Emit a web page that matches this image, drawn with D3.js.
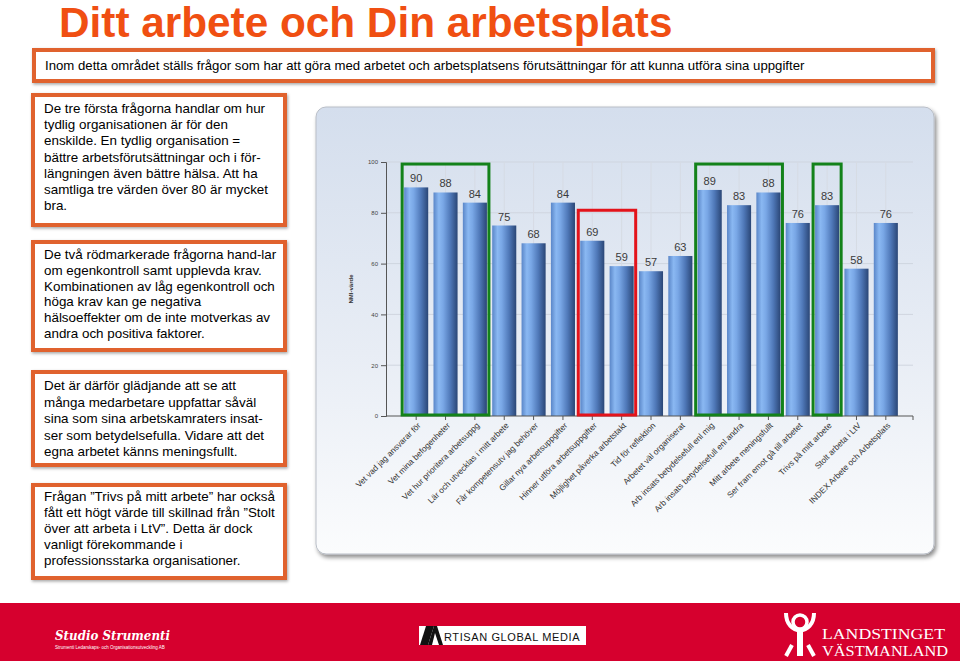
<!DOCTYPE html>
<html><head><meta charset="utf-8">
<script src="https://cdn.jsdelivr.net/npm/d3@7/dist/d3.min.js"></script>
<style>
html,body{margin:0;padding:0;background:#fff;}
svg{display:block;font-family:"Liberation Sans",Arial,sans-serif;}
</style></head>
<body>
<svg id="c" width="960" height="661"></svg>
<script>
const categories = [
  "Vet vad jag ansvarar för",
  "Vet mina befogenheter",
  "Vet hur prioritera arbetsuppg",
  "Lär och utvecklas i mitt arbete",
  "Får kompetensutv jag behöver",
  "Gillar nya arbetsuppgifter",
  "Hinner utföra arbetsuppgifter",
  "Möjlighet påverka arbetstakt",
  "Tid för reflektion",
  "Arbetet väl organiserat",
  "Arb insats betydelsefull enl mig",
  "Arb insats betydelsefull enl andra",
  "Mitt arbete meningsfullt",
  "Ser fram emot gå till arbetet",
  "Trivs på mitt arbete",
  "Stolt arbeta i LtV",
  "INDEX Arbete och Arbetsplats"
];
const values = [90, 88, 84, 75, 68, 84, 69, 59, 57, 63, 89, 83, 88, 76, 83, 58, 76];
const yTicks = [0, 20, 40, 60, 80, 100];
const yTitle = "NMI-värde";
// highlighted groups: [first index, last index, top value]
const greenGroups = [[0, 2, 99.2], [10, 12, 99.2], [14, 14, 99.2]];
const redGroups = [[6, 7, 81]];

const title = "Ditt arbete och Din arbetsplats";
const introText = "Inom detta området ställs frågor som har att göra med arbetet och arbetsplatsens förutsättningar för att kunna utföra sina uppgifter";
const box2 = ["De tre första frågorna handlar om hur","tydlig organisationen är för den","enskilde. En tydlig organisation =","bättre arbetsförutsättningar och i för-","längningen även bättre hälsa. Att ha","samtliga tre värden över 80 är mycket","bra."];
const box3 = ["De två rödmarkerade frågorna hand-lar","om egenkontroll samt upplevda krav.","Kombinationen av låg egenkontroll och","höga krav kan ge negativa","hälsoeffekter om de inte motverkas av","andra och positiva faktorer."];
const box4 = ["Det är därför glädjande att se att","många medarbetare uppfattar såväl","sina som sina arbetskamraters insat-","ser som betydelsefulla. Vidare att det","egna arbetet känns meningsfullt."];
const box5 = ["Frågan \u201dTrivs på mitt arbete\u201d har också","fått ett högt värde till skillnad från \u201dStolt","över att arbeta i LtV\u201d. Detta är dock","vanligt förekommande i","professionsstarka organisationer."];

const svg = d3.select("#c");
const defs = svg.append("defs");
const sh = defs.append("filter").attr("id","sh").attr("x","-10%").attr("y","-20%").attr("width","130%").attr("height","150%");
sh.append("feDropShadow").attr("dx",1).attr("dy",1.5).attr("stdDeviation",1.6).attr("flood-color","#000").attr("flood-opacity",0.35);
const sh2 = defs.append("filter").attr("id","sh2").attr("x","-5%").attr("y","-5%").attr("width","110%").attr("height","110%");
sh2.append("feDropShadow").attr("dx",2).attr("dy",3).attr("stdDeviation",2).attr("flood-color","#000").attr("flood-opacity",0.45);

const pg = defs.append("linearGradient").attr("id","pg").attr("x1",0).attr("y1",0).attr("x2",0).attr("y2",1);
pg.append("stop").attr("offset","0%").attr("stop-color","#d4deed");
pg.append("stop").attr("offset","55%").attr("stop-color","#e8edf5");
pg.append("stop").attr("offset","100%").attr("stop-color","#fbfcfd");

const bg = defs.append("linearGradient").attr("id","bg").attr("x1",0).attr("y1",0).attr("x2",1).attr("y2",0);
[["0%","#5a86c8"],["22%","#8ab8f2"],["40%","#79a7e6"],["70%","#4f78b8"],["100%","#2a4676"]].forEach(s=>bg.append("stop").attr("offset",s[0]).attr("stop-color",s[1]));

// Title
svg.append("text").attr("x",59).attr("y",37).attr("font-size",42.3).attr("font-weight","bold")
  .attr("fill","#f04f12").text(title);

// Text boxes
function textBox(x,y,w,h,lines,firstBase,lh,fs){
  svg.append("rect").attr("x",x).attr("y",y).attr("width",w).attr("height",h)
    .attr("fill","#fff").attr("stroke","#e0622f").attr("stroke-width",4).attr("filter","url(#sh)");
  const t = svg.append("text").attr("font-size",fs).attr("fill","#000");
  lines.forEach((l,i)=>t.append("tspan").attr("x",x+11).attr("y",firstBase+i*lh).text(l));
}
textBox(34,50,899,31,[introText],70,0,13.2);
textBox(33,95,252,130,box2,113,16.2,13.4);
textBox(33,242,252,108,box3,259,15.8,13.4);
textBox(33,372,252,93,box4,390,16.6,13.4);
textBox(33,485,252,93,box5,501,16,13.4);

// Chart panel
svg.append("rect").attr("x",316).attr("y",107).attr("width",618).attr("height",447).attr("rx",10)
  .attr("fill","url(#pg)").attr("stroke","#b9bec7").attr("stroke-width",1).attr("filter","url(#sh2)");

const x0 = 386, x1 = 913, yTop = 162, yBot = 416;
const y = d3.scaleLinear().domain([0,100]).range([yBot,yTop]);
const x = d3.scaleBand().domain(categories).range([x0+2,x1+1]).paddingInner(0.18).paddingOuter(0.55);
const g = svg.append("g");

// grid
g.selectAll(".hg").data(yTicks.filter(d=>d>0)).join("line")
  .attr("x1",x0).attr("x2",x1).attr("y1",d=>y(d)).attr("y2",d=>y(d))
  .attr("stroke","#cfd5df").attr("stroke-width",1);
g.selectAll(".vg").data(categories).join("line")
  .attr("x1",d=>x(d)+x.bandwidth()/2).attr("x2",d=>x(d)+x.bandwidth()/2)
  .attr("y1",yTop).attr("y2",yBot).attr("stroke","#d6dbe4").attr("stroke-width",1);

// bars
g.selectAll(".bar").data(values).join("rect")
  .attr("x",(d,i)=>x(categories[i])).attr("width",x.bandwidth())
  .attr("y",d=>y(d)).attr("height",d=>yBot-y(d)).attr("fill","url(#bg)");

// value labels
g.selectAll(".vl").data(values).join("text")
  .attr("x",(d,i)=>x(categories[i])+x.bandwidth()/2).attr("y",d=>y(d)-5)
  .attr("text-anchor","middle").attr("font-size",11).attr("fill","#3a3a3a").text(d=>d);

// axes
const yAxis = d3.axisLeft(y).tickValues(yTicks).tickSize(5).tickPadding(3);
const ya = g.append("g").attr("transform",`translate(${x0},0)`).call(yAxis);
ya.select(".domain").attr("stroke","#555");
ya.selectAll(".tick line").attr("stroke","#555");
ya.selectAll(".tick text").attr("font-size",6).attr("fill","#444");

const xAxis = d3.axisBottom(x).tickSize(4).tickSizeOuter(0).tickFormat("");
const xa = g.append("g").attr("transform",`translate(0,${yBot})`).call(xAxis);
xa.select(".domain").remove();
xa.selectAll(".tick line").attr("stroke","#555");
g.append("line").attr("x1",x0).attr("x2",x1).attr("y1",yBot).attr("y2",yBot).attr("stroke","#555");
g.append("line").attr("x1",x1).attr("x2",x1).attr("y1",yBot).attr("y2",yBot+4).attr("stroke","#555");

g.selectAll(".xl").data(categories).join("text")
  .attr("transform",d=>`translate(${x(d)+x.bandwidth()/2+3},${yBot+8}) rotate(-45)`)
  .attr("text-anchor","end").attr("dy","0.35em").attr("font-size",8.3).attr("fill","#333").text(d=>d);

g.append("text").attr("transform",`translate(353,${(yTop+yBot)/2}) rotate(-90)`)
  .attr("text-anchor","middle").attr("font-size",6).attr("font-weight","bold").attr("fill","#333").text(yTitle);

// highlight boxes
function hbox(grp,color){
  grp.forEach(([a,b,top])=>{
    const xa_ = x(categories[a])-2, xb_ = x(categories[b])+x.bandwidth()+2;
    g.append("rect").attr("x",xa_).attr("y",y(top)).attr("width",xb_-xa_).attr("height",yBot-1-y(top))
      .attr("fill","none").attr("stroke",color).attr("stroke-width",3);
  });
}
hbox(greenGroups,"#13821a");
hbox(redGroups,"#e3131b");

// Footer
svg.append("rect").attr("x",0).attr("y",603).attr("width",960).attr("height",58).attr("fill","#d6002e");
svg.append("text").attr("x",55).attr("y",640).attr("font-family","'DejaVu Serif',serif").attr("font-style","italic")
  .attr("font-weight","bold").attr("font-size",13).attr("textLength",115).attr("lengthAdjust","spacingAndGlyphs")
  .attr("fill","#fff").text("Studio Strumenti");
svg.append("text").attr("x",55).attr("y",649).attr("font-size",4.5).attr("fill","#fff")
  .text("Strumenti Ledarskaps- och Organisationsutveckling AB");
svg.append("rect").attr("x",419).attr("y",626).attr("width",167).attr("height",19).attr("fill","#fff");
svg.append("path").attr("d","M420,645 L426,626 L434,626 L428,645 Z").attr("fill","#111");
svg.append("path").attr("d","M428,645 L434,626 L437,626 L443,645 L439,645 L435,633 L432,645 Z").attr("fill","#111");
svg.append("text").attr("x",444).attr("y",641).attr("font-size",11).attr("letter-spacing",0.6).attr("fill","#111").text("RTISAN GLOBAL MEDIA");
// Landstinget logo
const lg = svg.append("g").attr("fill","none").attr("stroke","#fff");
lg.append("circle").attr("cx",800).attr("cy",622).attr("r",7).attr("stroke-width",3.5);
lg.append("path").attr("d","M786,613 C786,636 814,636 814,613").attr("stroke-width",4);
lg.append("path").attr("d","M800,632 L800,656").attr("stroke-width",6);
lg.append("path").attr("d","M786,656 L792,645").attr("stroke-width",4);
lg.append("path").attr("d","M814,656 L808,645").attr("stroke-width",4);
svg.append("text").attr("x",822).attr("y",639).attr("font-family","'Liberation Serif',serif").attr("font-size",15)
  .attr("fill","#fff").attr("textLength",123).attr("lengthAdjust","spacingAndGlyphs").text("LANDSTINGET");
svg.append("text").attr("x",822).attr("y",656).attr("font-family","'Liberation Serif',serif").attr("font-size",15)
  .attr("fill","#fff").attr("textLength",126).attr("lengthAdjust","spacingAndGlyphs").text("VÄSTMANLAND");
</script>
</body></html>
